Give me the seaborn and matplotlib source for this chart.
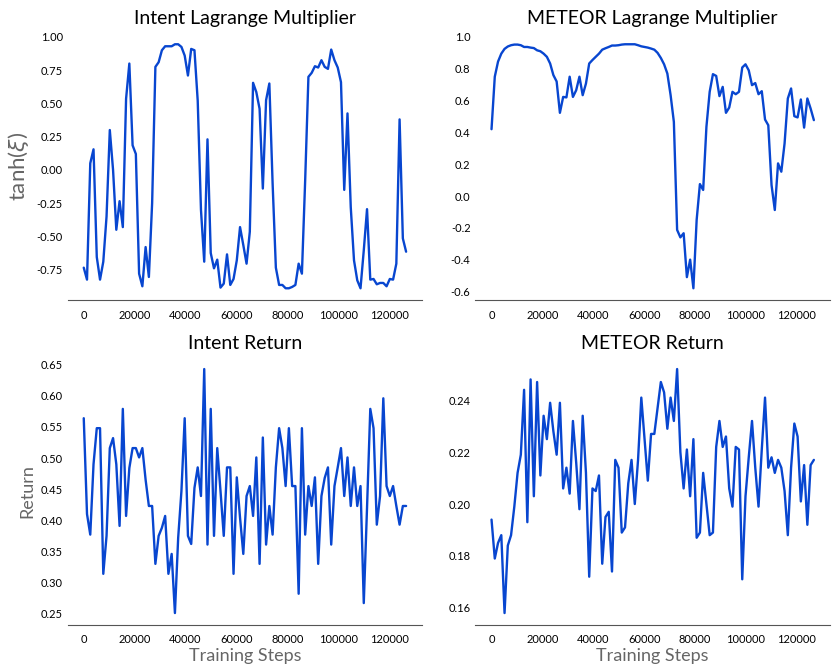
import numpy as np
import pandas as pd
import matplotlib
matplotlib.use("Agg")
import matplotlib.pyplot as plt
import seaborn as sns

# training steps (100 eval points)
steps = [i * 1280 for i in range(100)]

intent_lagrange = [
    -0.735, -0.825, 0.05, 0.155, -0.655, -0.825, -0.69, -0.35, 0.30, 0.0,
    -0.45, -0.235, -0.43, 0.535, 0.80, 0.185, 0.12, -0.78, -0.875, -0.58,
    -0.805, -0.25, 0.775, 0.81, 0.90, 0.93, 0.93, 0.93, 0.945, 0.945,
    0.925, 0.86, 0.71, 0.91, 0.90, 0.52, -0.30, -0.69, 0.23, -0.625,
    -0.74, -0.675, -0.885, -0.855, -0.635, -0.865, -0.82, -0.68, -0.43, -0.565,
    -0.705, -0.465, 0.655, 0.585, 0.46, -0.14, 0.525, 0.65, -0.10, -0.735,
    -0.865, -0.865, -0.89, -0.89, -0.88, -0.865, -0.705, -0.78, -0.08, 0.70,
    0.73, 0.78, 0.77, 0.825, 0.775, 0.76, 0.905, 0.825, 0.77, 0.66,
    -0.15, 0.425, -0.28, -0.68, -0.83, -0.89, -0.605, -0.295, -0.825, -0.82,
    -0.86, -0.85, -0.85, -0.875, -0.82, -0.825, -0.705, 0.38, -0.515, -0.615,
]

meteor_lagrange = [
    0.42, 0.75, 0.845, 0.895, 0.925, 0.94, 0.948, 0.952, 0.952, 0.948,
    0.937, 0.937, 0.933, 0.93, 0.916, 0.91, 0.895, 0.875, 0.833, 0.76,
    0.72, 0.523, 0.623, 0.62, 0.75, 0.623, 0.665, 0.75, 0.634, 0.707,
    0.833, 0.855, 0.875, 0.895, 0.92, 0.929, 0.937, 0.946, 0.946, 0.948,
    0.952, 0.954, 0.954, 0.954, 0.954, 0.948, 0.941, 0.937, 0.933, 0.927,
    0.92, 0.90, 0.868, 0.828, 0.77, 0.634, 0.466, -0.213, -0.26, -0.234,
    -0.51, -0.40, -0.58, -0.15, 0.075, 0.038, 0.435, 0.655, 0.766, 0.755,
    0.628, 0.686, 0.523, 0.556, 0.655, 0.64, 0.655, 0.808, 0.828, 0.79,
    0.697, 0.71, 0.64, 0.659, 0.481, 0.445, 0.069, -0.088, 0.205, 0.153,
    0.33, 0.613, 0.676, 0.502, 0.494, 0.607, 0.43, 0.613, 0.55, 0.477,
]

intent_return = [
    0.564, 0.41, 0.377, 0.49, 0.548, 0.548, 0.314, 0.375, 0.516, 0.532,
    0.49, 0.391, 0.579, 0.407, 0.484, 0.516, 0.516, 0.501, 0.516, 0.465,
    0.423, 0.423, 0.33, 0.375, 0.388, 0.407, 0.314, 0.346, 0.251, 0.372,
    0.447, 0.564, 0.375, 0.362, 0.452, 0.485, 0.439, 0.643, 0.361, 0.579,
    0.375, 0.516, 0.447, 0.375, 0.485, 0.485, 0.314, 0.469, 0.404, 0.346,
    0.439, 0.455, 0.407, 0.501, 0.33, 0.533, 0.361, 0.423, 0.377, 0.485,
    0.548, 0.516, 0.455, 0.548, 0.455, 0.455, 0.282, 0.548, 0.377, 0.455,
    0.423, 0.469, 0.33, 0.439, 0.468, 0.485, 0.361, 0.455, 0.485, 0.516,
    0.439, 0.501, 0.423, 0.485, 0.423, 0.455, 0.267, 0.42, 0.579, 0.548,
    0.393, 0.439, 0.596, 0.455, 0.439, 0.455, 0.423, 0.393, 0.423, 0.423,
]

meteor_return = [
    0.194, 0.179, 0.185, 0.188, 0.158, 0.184, 0.188, 0.199, 0.212, 0.219,
    0.244, 0.193, 0.248, 0.203, 0.247, 0.211, 0.234, 0.225, 0.239, 0.228,
    0.219, 0.239, 0.206, 0.214, 0.204, 0.232, 0.216, 0.198, 0.234, 0.212,
    0.172, 0.206, 0.205, 0.211, 0.177, 0.195, 0.197, 0.174, 0.217, 0.214,
    0.189, 0.191, 0.208, 0.217, 0.200, 0.217, 0.241, 0.225, 0.209, 0.227,
    0.227, 0.237, 0.247, 0.243, 0.229, 0.241, 0.232, 0.252, 0.220, 0.206,
    0.221, 0.203, 0.225, 0.187, 0.189, 0.212, 0.200, 0.188, 0.189, 0.222,
    0.232, 0.222, 0.226, 0.206, 0.199, 0.222, 0.221, 0.171, 0.203, 0.218,
    0.232, 0.214, 0.199, 0.221, 0.241, 0.214, 0.218, 0.212, 0.217, 0.214,
    0.205, 0.188, 0.214, 0.231, 0.226, 0.201, 0.215, 0.192, 0.215, 0.217,
]

titles = ["Intent Lagrange Multiplier", "METEOR Lagrange Multiplier",
          "Intent Return", "METEOR Return"]

sns.set_style("white")
plt.rcParams["font.family"] = ["Lato", "DejaVu Sans"]

fig, axes = plt.subplots(2, 2, figsize=(8.35, 6.68), dpi=100)
plt.subplots_adjust(left=0.081, right=0.994, top=0.952, bottom=0.064,
                    wspace=0.15, hspace=0.21)

series = [intent_lagrange, meteor_lagrange, intent_return, meteor_return]
line_color = "#0846d0"

for ax, title, vals in zip(axes.flat, titles, series):
    df = pd.DataFrame({"step": steps, "value": vals})
    sns.lineplot(data=df, x="step", y="value", ax=ax, color=line_color, linewidth=1.7)
    ax.set_title(title, fontsize=14, color="black", pad=6)
    ax.set_xlabel("")
    ax.set_ylabel("")
    ax.set_xticks([0, 20000, 40000, 60000, 80000, 100000, 120000])
    ax.tick_params(axis="x", labelsize=8, length=3, color="#555555", colors="black")
    ax.tick_params(axis="y", labelsize=8, length=0, colors="black")
    ax.spines["bottom"].set_color("#555555")
    sns.despine(ax=ax, left=True)

axes[0, 0].set_yticks(np.arange(-0.75, 1.01, 0.25))
axes[0, 0].yaxis.set_major_formatter(matplotlib.ticker.FormatStrFormatter("%.2f"))
axes[0, 1].set_yticks(np.arange(-0.6, 1.01, 0.2))
axes[0, 1].yaxis.set_major_formatter(matplotlib.ticker.FormatStrFormatter("%.1f"))
axes[1, 0].set_yticks(np.arange(0.25, 0.651, 0.05))
axes[1, 0].yaxis.set_major_formatter(matplotlib.ticker.FormatStrFormatter("%.2f"))
axes[1, 1].set_yticks(np.arange(0.16, 0.241, 0.02))
axes[1, 1].yaxis.set_major_formatter(matplotlib.ticker.FormatStrFormatter("%.2f"))

axes[0, 0].set_ylabel(r"tanh($\xi$)", fontsize=16, color="#666666")
axes[1, 0].set_ylabel("Return", fontsize=13, color="#666666")
axes[1, 0].set_xlabel("Training Steps", fontsize=13, color="#666666", labelpad=2)
axes[1, 1].set_xlabel("Training Steps", fontsize=13, color="#666666", labelpad=2)

plt.savefig("out.png", dpi=100)
